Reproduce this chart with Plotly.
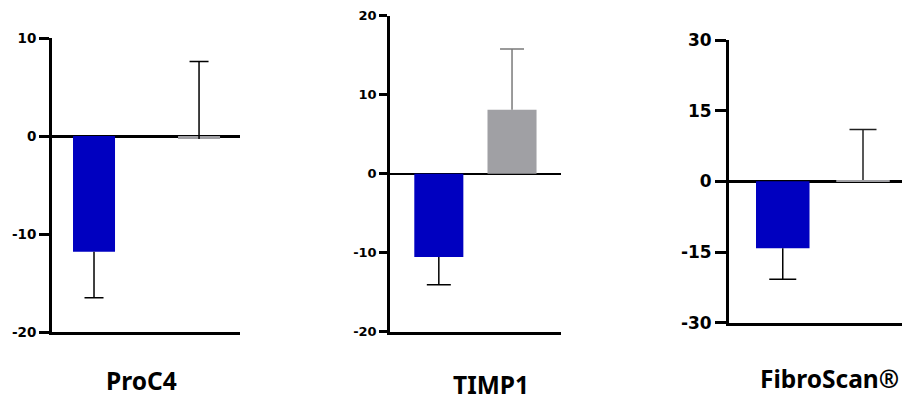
import plotly.graph_objects as go

W, H = 902, 396

groups = ["Active", "Placebo"]
panels = ["ProC4", "TIMP1", "FibroScan®"]

proc4_mean = [-11.8, -0.3]
proc4_err_up = [0.0, 7.9]
proc4_err_down = [4.7, 0.0]

timp1_mean = [-10.55, 8.1]
timp1_err_up = [0.0, 7.7]
timp1_err_down = [3.5, 0.0]

fibro_mean = [-14.2, 0.3]
fibro_err_up = [0.0, 10.7]
fibro_err_down = [6.6, 0.0]

proc4_ticks = [-20, -10, 0, 10]
timp1_ticks = [-20, -10, 0, 10, 20]
fibro_ticks = [-30, -15, 0, 15, 30]

bar_colors = ["#0000C0", "#A0A0A4"]

data = [
    (proc4_mean, proc4_err_up, proc4_err_down, proc4_ticks),
    (timp1_mean, timp1_err_up, timp1_err_down, timp1_ticks),
    (fibro_mean, fibro_err_up, fibro_err_down, fibro_ticks),
]

# layout geometry (pixels)
geo = [
    dict(x0=52, x1=240, ytop=38, ybot=332, xr=[-0.4, 1.39], bw=0.4, cap=9.5,
         tf=13.5, tl=10, lw=3, zw=3, errc=["#000000", "#000000"]),
    dict(x0=390, x1=560.7, ytop=15.7, ybot=331.7, xr=[-0.667, 1.665], bw=0.67, cap=12,
         tf=13, tl=8, lw=2.5, zw=2.2, errc=["#000000", "#7A7A7A"]),
    dict(x0=729, x1=902, ytop=40, ybot=322.7, xr=[-0.67, 1.486], bw=0.667, cap=13.5,
         tf=17, tl=11, lw=3, zw=3.2, errc=["#000000", "#202020"]),
]

fig = go.Figure()
layout = dict(template="none", width=W, height=H, autosize=False,
              margin=dict(l=0, r=0, t=0, b=0, pad=0, autoexpand=False),
              paper_bgcolor="white", plot_bgcolor="white", showlegend=False)

for i, ((mean, eup, edn, ticks), g) in enumerate(zip(data, geo)):
    n = "" if i == 0 else str(i + 1)
    xa, ya = "x" + n, "y" + n
    fig.add_trace(go.Bar(x=groups, y=mean, width=g["bw"],
                         marker=dict(color=bar_colors, line=dict(width=0)),
                         xaxis=xa, yaxis=ya, hoverinfo="skip"))
    for j in range(len(groups)):
        tip = mean[j] + eup[j] if eup[j] > 0 else mean[j] - edn[j]
        fig.add_trace(go.Scatter(x=[groups[j], groups[j]], y=[mean[j], tip],
                                 mode="lines", line=dict(color=g["errc"][j], width=1.5),
                                 xaxis=xa, yaxis=ya, hoverinfo="skip"))
        fig.add_trace(go.Scatter(x=[groups[j]], y=[tip], mode="markers",
                                 marker=dict(size=1, opacity=0),
                                 error_y=dict(type="data", array=[0], visible=True,
                                              width=g["cap"], thickness=1.5,
                                              color=g["errc"][j]),
                                 xaxis=xa, yaxis=ya, hoverinfo="skip"))
    layout["xaxis" + n] = dict(domain=[g["x0"] / W, g["x1"] / W], range=g["xr"],
                               anchor=ya, showline=True, linecolor="black",
                               linewidth=g["lw"],
                               showticklabels=False, ticks="", showgrid=False,
                               zeroline=False, fixedrange=True, automargin=False)
    layout["yaxis" + n] = dict(domain=[1 - g["ybot"] / H, 1 - g["ytop"] / H],
                               range=[ticks[0], ticks[-1]], anchor=xa,
                               tickvals=ticks,
                               ticktext=["<b>" + str(t) + "</b>" for t in ticks],
                               showline=True, linecolor="black", linewidth=g["lw"],
                               ticks="outside", ticklen=g["tl"], tickwidth=2.5,
                               tickcolor="black", showgrid=False,
                               zeroline=True, zerolinecolor="black",
                               zerolinewidth=g["zw"],
                               tickfont=dict(family="DejaVu Sans", size=g["tf"],
                                             color="black", weight="bold"),
                               fixedrange=True, automargin=False)

fig.update_layout(**layout)

label_pos = [(141.5, 380, "center"), (491, 384, "center"), (758, 378.5, "left")]
for name, (px, py, anc) in zip(panels, label_pos):
    fig.add_annotation(x=px / W, y=1 - py / H, xref="paper", yref="paper",
                       text="<b>" + name + "</b>", showarrow=False,
                       xanchor=anc, yanchor="middle",
                       font=dict(family="Noto Sans", size=24.5, color="black"))

fig.write_html("out.html", config={"displayModeBar": False},
               post_script="document.body.style.margin='0px';")
